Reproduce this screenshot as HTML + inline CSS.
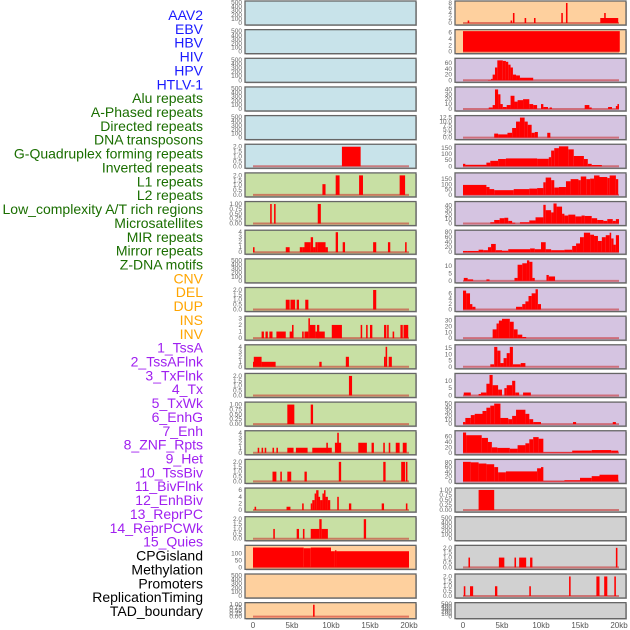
<!DOCTYPE html>
<html><head><meta charset="utf-8"><style>
html,body{margin:0;padding:0;background:#fff;}
svg{display:block;font-family:"Liberation Sans",sans-serif;}
</style></head><body>
<svg id="chart" width="630" height="630" viewBox="0 0 630 630" xmlns="http://www.w3.org/2000/svg"></svg>
<script>
// ---- labels ----
const trackLabels = ["AAV2","EBV","HBV","HIV","HPV","HTLV-1","Alu repeats","A-Phased repeats","Directed repeats","DNA transposons","G-Quadruplex forming repeats","Inverted repeats","L1 repeats","L2 repeats","Low_complexity A/T rich regions","Microsatellites","MIR repeats","Mirror repeats","Z-DNA motifs","CNV","DEL","DUP","INS","INV","1_TssA","2_TssAFlnk","3_TxFlnk","4_Tx","5_TxWk","6_EnhG","7_Enh","8_ZNF_Rpts","9_Het","10_TssBiv","11_BivFlnk","12_EnhBiv","13_ReprPC","14_ReprPCWk","15_Quies","CPGisland","Methylation","Promoters","ReplicationTiming","TAD_boundary"];
const labelGroups = [6,13,5,15,5];
const groupColors = ["#1a1aff","#1a6e00","#ffa500","#a020f0","#000000"];
const xTickValues = [0,5,10,15,20];
const xTickLabels = ["0","5kb","10kb","15kb","20kb"];
// ---- left column panels (segments: start kb, end kb, value) ----
const leftBg = ["b","b","b","b","b","b","g","g","g","g","g","g","g","g","g","g","g","g","g","o","o","o"];
const leftYmax = [500,500,500,500,500,2.1,2.1,1.05,4.1,500,2.1,3.1,4.1,2.1,1.05,4.1,2.1,6.2,2.1,150,500,1.05];
const leftTicks = [[0,100,200,300,400,500],[0,100,200,300,400,500],[0,100,200,300,400,500],[0,100,200,300,400,500],[0,100,200,300,400,500],[0,0.5,1,1.5,2],[0,0.5,1,1.5,2],[0,0.25,0.5,0.75,1],[0,1,2,3,4],[0,100,200,300,400,500],[0,0.5,1,1.5,2],[0,1,2,3],[0,1,2,3,4],[0,0.5,1,1.5,2],[0,0.25,0.5,0.75,1],[0,1,2,3,4],[0,0.5,1,1.5,2],[0,2,4,6],[0,0.5,1,1.5,2],[0,50,100],[0,100,200,300,400,500],[0,0.25,0.5,0.75,1]];
const L5 = [[11.4,13.8,2]];
const L6 = [[8.9,9.3,1.1],[10.6,11.1,2],[13.6,14.1,2],[18.8,19.5,2]];
const L7 = [[2.2,2.4,1],[2.7,2.9,1],[8.3,8.7,1]];
const L8 = [[0,0.2,1],[4.2,4.7,1],[6.0,6.3,1],[6.3,6.6,1],[6.6,7.4,2],[7.4,7.7,3],[7.7,8.0,1],[8.0,8.3,2],[8.3,9.3,2],[9.3,9.6,1],[10.6,10.9,4],[11.5,11.8,2],[15.4,15.8,2],[17.3,17.6,2],[19.5,19.7,2]];
const L10 = [[4.2,4.7,1],[4.8,5.4,1],[5.6,5.9,1],[6.7,7.1,1],[15.4,15.8,2]];
const L11 = [[1.1,1.4,1],[1.6,1.9,1],[2.1,2.5,1],[3.0,4.2,1],[4.7,5.0,1],[5.0,5.2,2],[6.3,6.5,1],[6.6,7.1,1],[7.1,7.3,3],[7.3,8.0,2],[8.0,9.2,1],[8.2,8.5,2],[10.1,11.4,2],[13.8,14.0,2],[14.5,14.7,2],[15.0,15.3,2],[16.8,17.1,2],[17.2,17.4,2],[17.9,18.1,1],[18.9,19.2,2],[19.3,19.9,2]];
const L12 = [[0,0.1,1],[0.1,1.1,2],[1.1,2.9,1],[8.5,8.8,1],[11.9,12.3,2],[16.8,17.0,2],[17.0,17.2,4],[17.4,17.8,2]];
const L13 = [[12.3,12.7,2]];
const L14 = [[4.4,5.3,1],[7.4,7.7,1]];
const L15 = [[0.6,0.8,1],[1.1,1.3,1],[1.5,1.7,1],[2.5,2.7,1],[3.0,3.2,1],[4.4,5.2,1],[5.5,7.0,1],[7.6,10.1,1],[9.4,9.6,2],[10.5,11.3,2],[10.8,11.0,4],[13.5,14.6,2],[15.2,15.5,2],[16.7,16.9,2],[17.4,17.6,2],[18.3,18.8,2],[19.2,19.7,2]];
const L16 = [[2.5,3.0,1],[3.5,3.7,1],[4.4,4.9,1],[6.6,6.9,1],[11.0,11.3,2],[16.7,17.0,2],[19.0,19.5,2],[19.6,19.8,2]];
const L17 = [[0.2,0.4,1],[4.3,4.8,1],[6.3,6.5,2],[7.4,7.6,2],[7.6,7.9,3],[7.9,8.1,5],[8.1,8.4,6],[8.4,8.6,4],[8.6,8.9,3],[8.9,9.1,5],[9.1,9.3,6],[9.3,9.6,4],[9.6,9.9,3],[10.8,11.0,4],[12.3,12.6,2],[16.5,16.8,2],[19.6,19.8,2]];
const L18 = [[2.6,2.8,1],[5.6,5.9,1],[6.4,6.6,1],[7.4,8.5,1],[8.5,8.8,2],[8.8,9.6,1],[14.2,14.5,2]];
const L19 = [[0,6.5,145],[6.5,7.4,140],[7.4,10.0,145],[10.0,10.5,118],[10.5,10.7,125],[10.7,20.0,118]];
const L21 = [[7.7,7.9,1]];
const leftSeries = [[],[],[],[],[],L5,L6,L7,L8,[],L10,L11,L12,L13,L14,L15,L16,L17,L18,L19,[],L21];
// ---- right column panels ----
const rightBg = ["o","o","p","p","p","p","p","p","p","p","p","p","p","p","p","p","p","y","y","y","y","y"];
const rightYmax = [8.2,6.5,72,42,12.8,170,195,46,82,14,7.6,35,16.5,14,50,76,86,1.02,500,2.1,2.1,500];
const rightTicks = [[0,2,4,6,8],[0,2,4,6],[0,20,40,60],[0,10,20,30,40],[0,2.5,5,7.5,10,12.5],[0,50,100,150],[0,50,100,150],[0,10,20,30,40],[0,20,40,60,80],[0,5,10],[0,2,4,6],[0,10,20,30],[0,5,10,15],[0,5,10],[0,10,20,30,40,50],[0,20,40,60],[0,20,40,60,80],[0,0.25,0.5,0.75,1],[0,100,200,300,400,500],[0,0.5,1,1.5,2],[0,0.5,1,1.5,2],[0,100,200,300,400,500]];
const R0 = [[0.6,0.8,1],[6.1,6.3,1],[6.4,6.6,4],[7.9,8.1,2],[9.1,9.3,2],[12.6,12.8,4],[13.2,13.4,8],[17.6,19.9,2],[18.1,18.3,4]];
const R1 = [[0,20.1,6.5]];
const R2 = [[3.2,3.6,1],[3.6,3.8,5],[3.8,4.1,20],[4.1,4.4,45],[4.4,5.1,70],[5.1,5.5,68],[5.5,5.8,65],[5.8,6.1,55],[6.1,6.4,45],[6.4,6.8,20],[6.8,7.3,17],[7.3,9.0,9]];
const R3 = [[3.3,3.8,3],[3.8,4.1,8],[4.1,4.5,40],[4.5,4.8,30],[4.8,5.1,10],[5.1,5.6,4],[5.6,6.1,8],[6.1,6.6,27],[6.6,7.0,15],[7.0,7.7,18],[7.7,8.5,20],[8.5,9.0,10],[9.0,9.5,8],[10.0,10.3,10],[10.3,10.9,4],[11.1,11.4,3],[15.6,16.2,8],[16.2,16.5,3],[18.6,19.1,4],[19.6,19.8,6],[19.8,20.0,10]];
const R4 = [[4.0,4.5,2.5],[4.5,5.7,2],[5.7,6.3,3],[6.3,6.8,6],[6.8,7.3,10],[7.3,7.9,12.5],[7.9,8.3,10],[8.3,8.8,8],[8.8,9.2,3],[9.2,9.6,3.5],[10.8,11.2,3]];
const R5 = [[0,0.3,20],[0.3,3.0,12],[3.0,3.5,30],[3.5,4.5,45],[4.5,5.5,60],[5.5,9.5,65],[9.5,11,62],[11,11.3,75],[11.3,11.7,130],[11.7,12.3,150],[12.3,13.5,165],[13.5,14.2,140],[14.2,15.5,85],[15.5,16.0,60],[16.0,16.5,20],[16.5,17.8,10]];
const R6 = [[0,3.0,95],[3.0,3.4,75],[3.4,4.0,55],[4.0,5.0,45],[5.0,6.5,45],[6.5,7.5,55],[7.5,8.5,55],[8.5,9.5,60],[9.5,10.3,65],[10.3,10.6,120],[10.6,11.3,165],[11.3,11.7,140],[11.7,12.3,70],[12.3,13.2,75],[13.2,13.8,130],[13.8,14.8,150],[14.8,15.1,140],[15.1,15.8,175],[15.8,16.3,150],[16.3,16.8,155],[16.8,17.5,185],[17.5,18.5,170],[18.5,18.8,160],[18.8,19.6,185],[19.6,19.9,150]];
const R7 = [[3.5,4.0,3],[4.0,4.7,8],[4.7,5.3,12],[5.3,5.8,13],[5.8,6.3,6],[6.3,6.7,2],[7.3,8.5,3],[8.5,9.3,7],[9.3,10.3,14],[10.3,10.6,42],[10.6,11.3,30],[11.3,11.6,25],[11.6,12.0,45],[12.0,12.7,38],[12.7,13.0,22],[13.0,13.5,18],[13.5,14.4,20],[14.4,15.2,16],[15.2,15.6,18],[15.6,16.5,17],[16.5,17.2,12],[17.2,18.0,8],[18.0,18.5,6],[18.5,19.2,10],[19.2,19.6,6],[19.6,20,10]];
const R8 = [[0,0.6,5],[0.6,2.0,5],[2.0,2.6,10],[2.6,3.2,8],[3.2,3.6,20],[3.6,4.2,33],[4.2,5.0,8],[5.0,5.8,6],[5.8,8.6,12],[8.6,9.2,15],[9.2,10.0,12],[10.0,10.6,40],[10.6,11.3,12],[11.3,13.0,8],[13.0,14.0,10],[14.0,14.5,25],[14.5,15.0,35],[15.0,15.5,60],[15.5,16.3,78],[16.3,16.8,70],[16.8,17.3,65],[17.3,17.8,45],[17.8,18.3,60],[18.3,18.8,68],[18.8,19.0,78],[19.0,19.3,55],[19.3,19.6,30],[19.6,20,68]];
const R9 = [[0.1,0.6,2],[0.6,1.3,1],[3.0,3.4,1],[6.6,7.0,2],[7.0,7.6,11],[7.6,8.2,12],[8.2,8.5,14],[8.5,8.9,13],[8.9,9.2,2],[10.7,11.0,4],[11.0,11.8,3]];
const R10 = [[0,0.4,7],[0.4,0.9,6],[0.9,1.2,2],[1.2,1.6,1],[6.8,7.6,1],[7.6,8.0,2],[8.0,8.4,3],[8.4,8.8,5],[8.8,9.3,6],[9.3,9.6,7.5],[9.6,10,2]];
const R11 = [[3.8,4.3,15],[4.3,4.6,25],[4.6,5.0,30],[5.0,6.0,33],[6.0,6.5,28],[6.5,7.0,15],[7.0,7.6,6],[7.6,8.1,2]];
const R12 = [[3.5,4.0,2],[4.0,4.4,16],[4.4,4.8,13],[4.8,5.2,3],[5.2,5.6,7],[5.6,6.0,11],[6.0,6.4,16],[6.4,7.4,2],[7.4,8.0,3]];
const R13 = [[0.1,1.0,2],[2.0,2.3,1],[2.3,3.0,2],[3.0,3.4,8],[3.4,3.8,14],[3.8,4.5,7],[4.5,5.0,4],[5.3,5.6,5],[5.6,6.3,7],[6.3,6.7,10],[6.7,7.2,2],[7.7,8.7,2]];
const R14 = [[0,0.3,5],[0.3,1.0,15],[1.0,1.5,22],[1.5,2.5,25],[2.5,3.0,32],[3.0,3.5,40],[3.5,4.0,45],[4.0,4.8,50],[4.8,5.8,15],[5.8,6.3,12],[6.3,6.8,20],[6.8,8.0,35],[8.0,8.5,25],[8.5,9.0,12],[9.0,10.0,5],[14.1,14.5,5],[19.2,19.6,5]];
const R15 = [[0,0.4,75],[0.4,2.4,65],[2.4,3.2,55],[3.2,3.7,40],[3.7,4.4,20],[4.4,6.0,18],[6.0,7.0,15],[7.0,8.0,28],[8.0,8.5,35],[8.5,9.0,50],[9.0,9.7,58],[9.7,10.3,52],[10.3,14.0,2],[14.0,16.5,8],[16.5,19.0,10],[19.0,19.9,8]];
const R16 = [[0,1.0,82],[1.0,2.0,80],[2.0,3.0,75],[3.0,4.0,72],[4.0,4.5,60],[4.5,5.5,38],[5.5,9.5,42],[9.5,10.0,55],[10.0,10.3,60],[10.3,13.0,2],[13.0,15.0,5],[15.0,16.5,15],[16.5,17.5,22],[17.5,19.9,28]];
const R17 = [[2.0,4.0,1]];
const R19 = [[0.7,0.9,1],[4.6,5.3,1],[6.6,6.8,1],[7.2,8.1,1],[8.6,8.9,1],[19.6,19.8,2]];
const R20 = [[0.1,0.3,1],[0.9,1.3,1],[4.1,4.4,1],[8.5,8.7,1],[13.6,13.8,2],[17.1,17.5,2],[18.1,18.5,2],[19.4,19.6,2]];
const rightSeries = [R0,R1,R2,R3,R4,R5,R6,R7,R8,R9,R10,R11,R12,R13,R14,R15,R16,R17,[],R19,R20,[]];

const NS = "http://www.w3.org/2000/svg";
const svg = document.getElementById("chart");
const bgColors = {b:"#c8e3ea",g:"#c8e0a4",o:"#fed09e",p:"#d5c4e1",y:"#d1d1d1"};
function mk(tag, attrs, parent){const e=document.createElementNS(NS,tag);for(const k in attrs)e.setAttribute(k,attrs[k]);(parent||svg).appendChild(e);return e;}
function decimals(v){const s=String(v);const p=s.indexOf('.');return p<0?0:s.length-p-1;}

// labels
let li=0;
labelGroups.forEach((n,g)=>{for(let k=0;k<n;k++){
  const t=mk("text",{x:203,y:20+li*13.86,"text-anchor":"end","font-size":"14",fill:groupColors[g]});
  t.textContent=trackLabels[li];
  
  
  li++;}});

function rowGeom(i){const top=1+i*28.65;const h=(i===21)?16:24;return {top,h};}

function drawColumn(side, x0px, series, ymaxs, ticks, bgs){
  const xL=x0px;
  const sx=kb=>x0px+8+kb*7.8;
  for(let i=0;i<22;i++){
    const {top,h}=rowGeom(i);
    const g=mk("g",{});
    
    
    mk("rect",{x:xL+1,y:top+1,width:171,height:h,fill:"#bbb"},g);
    mk("rect",{x:xL,y:top,width:171,height:h,fill:bgColors[bgs[i]],stroke:"#666","stroke-width":1.3},g);
    const y0=top+h-2, y1=top+1.5;
    const sy=v=>y0-(v/ymaxs[i])*(y0-y1);
    const dec=Math.max(...ticks[i].map(decimals));
    ticks[i].forEach(tv=>{
      const t=mk("text",{x:xL-3,y:sy(tv)+2,"text-anchor":"end","font-size":"6.5",fill:"#666"},g);
      t.textContent=tv.toFixed(dec);
      
      
    });
    if(series[i].length){
      mk("line",{x1:sx(0),x2:sx(20),y1:y0,y2:y0,stroke:"rgba(200,40,40,0.55)","stroke-width":2},g);
      series[i].forEach(s=>{
        const r=mk("rect",{x:sx(s[0]),y:sy(s[2]),width:Math.max(1.2,sx(s[1])-sx(s[0])),height:y0-sy(s[2]),fill:"#ff0000"},g);
        
        
      });
    }
  }
  xTickValues.forEach((v,k)=>{
    const t=mk("text",{x:sx(v),y:628,"text-anchor":"middle","font-size":"8",fill:"#555"});
    t.textContent=xTickLabels[k];
    
    
  });
}
drawColumn("left",245,leftSeries,leftYmax,leftTicks,leftBg);
drawColumn("right",455,rightSeries,rightYmax,rightTicks,rightBg);
</script>
</body></html>
